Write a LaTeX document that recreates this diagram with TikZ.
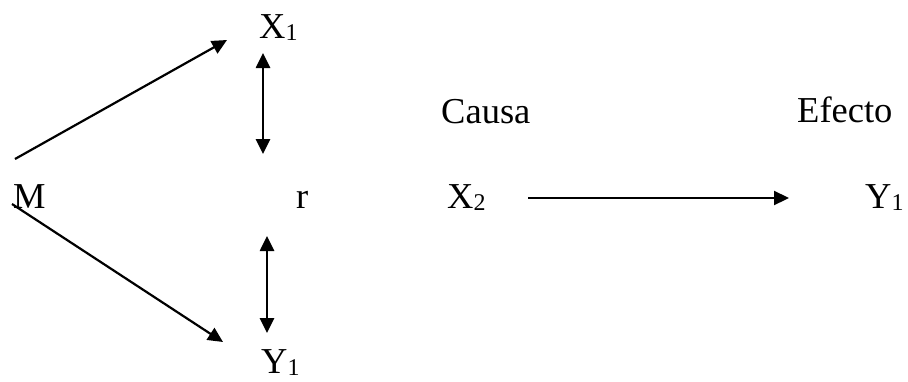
\documentclass[tikz,border=0pt]{standalone}
\usepackage{fontspec}
\setmainfont{Liberation Serif}
\usetikzlibrary{arrows.meta}
\newcommand{\subsc}[1]{\raisebox{-2.5pt}{\fontsize{24}{24}\selectfont #1}}
\begin{document}
\begin{tikzpicture}[x=1pt,y=-1pt,
  lbl/.style={inner sep=0pt,anchor=base west,font=\fontsize{36.5}{40}\selectfont},
  conn/.style={line width=2.2pt,-{Triangle[length=15pt,width=14pt]}},
  dbl/.style={line width=2.6pt,{Triangle[length=15pt,width=14pt]}-{Triangle[length=15pt,width=14pt]}}]
\useasboundingbox (0,0) rectangle (908,381);
% labels
\node[lbl] (M) at (13,208) {M};
\node[lbl] (X1) at (259,38) {X\subsc{1}};
\node[lbl] (r) at (296,208) {r};
\node[lbl] (Y1a) at (261,373) {Y\subsc{1}};
\node[lbl] (causa) at (441,123) {Causa};
\node[lbl] (efecto) at (797,122) {Efecto};
\node[lbl] (X2) at (447,208) {X\subsc{2}};
\node[lbl] (Y1b) at (865,208) {Y\subsc{1}};
% connector end points
\coordinate (m1) at (15,159);
\coordinate (x1) at (227,40);
\coordinate (m2) at (12,204);
\coordinate (y1) at (223,342);
\coordinate (u1) at (263,53);
\coordinate (u2) at (263,154);
\coordinate (l1) at (267,236);
\coordinate (l2) at (267,333);
\coordinate (h1) at (528,198);
\coordinate (h2) at (789,198);
% connectors
\draw[conn] (m1) -- (x1);
\draw[conn] (m2) -- (y1);
\draw[dbl] (u1) -- (u2);
\draw[dbl] (l1) -- (l2);
\draw[conn] (h1) -- (h2);
\end{tikzpicture}
\end{document}
